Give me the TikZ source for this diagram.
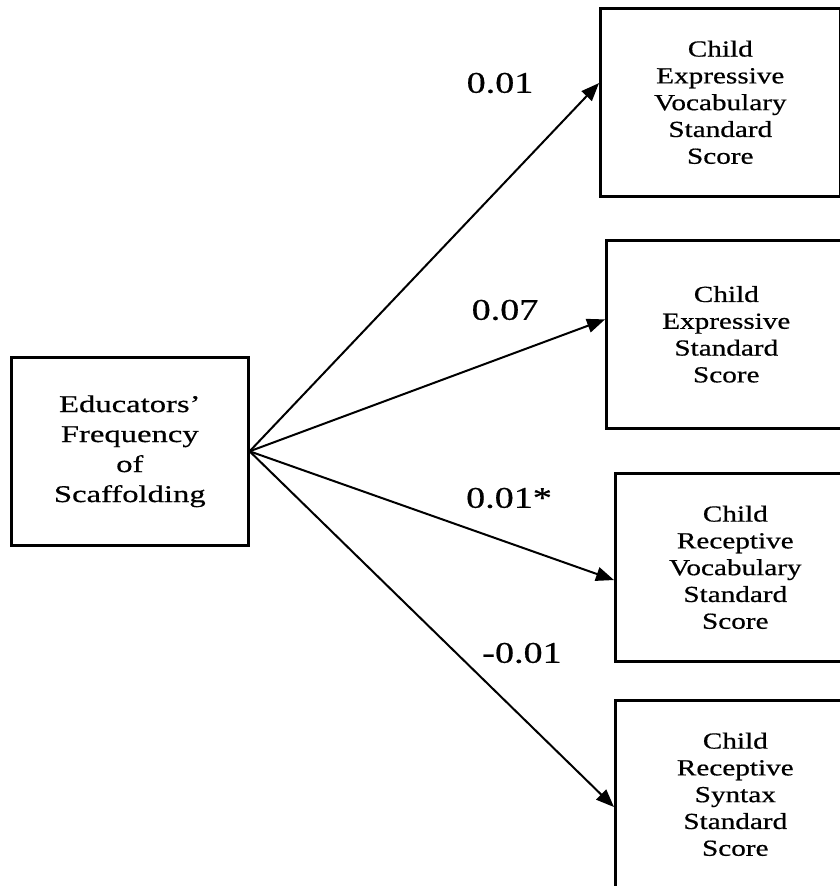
\documentclass[tikz,border=0pt]{standalone}
\usepackage{fontspec}
\setmainfont{Liberation Serif}[FakeStretch=1.27,FakeBold=0.6]
\newfontfamily\predfont{Liberation Serif}[FakeStretch=1.36,FakeBold=0.6]
\usetikzlibrary{calc,arrows.meta,positioning}

\begin{document}
\begin{tikzpicture}[x=0.5pt,y=-0.5pt]

\tikzset{varbox/.style={draw=black,line width=1.3pt,fill=white,align=center,font=\fontsize{11.5}{13.4}\selectfont,minimum width=120pt,minimum height=94pt,inner sep=0pt,anchor=north west},
coeflabel/.style={font=\fontsize{15}{18}\selectfont,inner sep=0pt},
pathline/.style={line width=1pt,-{Triangle[length=9pt,width=7pt]}}}

\useasboundingbox (0,0) rectangle (839,886);

% Predictor node
\node[varbox,minimum width=118.5pt,font=\predfont\fontsize{12}{15}\selectfont] (edu) at (10,356) {Educators’\\Frequency\\of\\Scaffolding};

% Outcome nodes
\node[varbox] (expvoc) at (599,7) {Child\\Expressive\\Vocabulary\\Standard\\Score};
\node[varbox] (expstd) at (605,239) {Child\\Expressive\\Standard\\Score};
\node[varbox] (recvoc) at (614,472) {Child\\Receptive\\Vocabulary\\Standard\\Score};
\node[varbox] (recsyn) at (614,699) {Child\\Receptive\\Syntax\\Standard\\Score};

% Paths
\draw[pathline] (edu.east) -- (expvoc.171);
\draw[pathline] (edu.east) -- (expstd.173);
\draw[pathline] (edu.east) -- (recvoc.186);
\draw[pathline] (edu.east) -- (recsyn.186);

% Coefficients
\node[coeflabel] (c1) at (500,83) {0.01};
\node[coeflabel] (c2) at (505,310) {0.07};
\node[coeflabel] (c3) at (509,498) {0.01*};
\node[coeflabel] (c4) at (522,653) {-0.01};

\end{tikzpicture}
\end{document}
